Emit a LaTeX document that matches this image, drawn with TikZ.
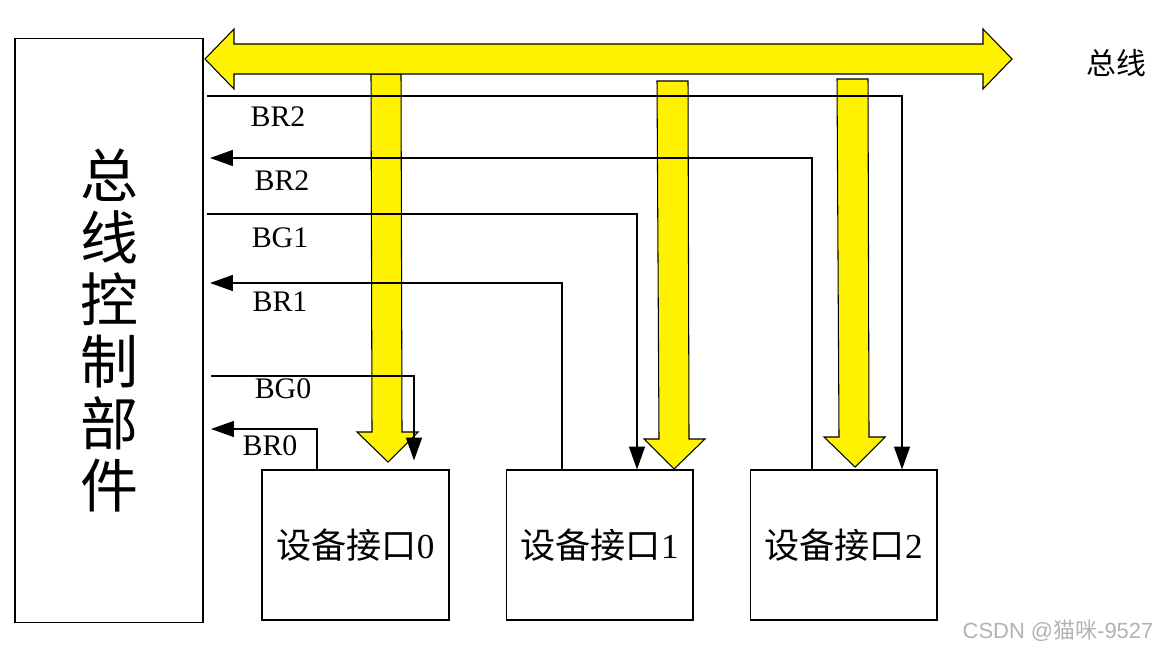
\documentclass[tikz,border=0pt]{standalone}
\usepackage{fontspec}
\setmainfont{Liberation Serif}
\setsansfont{Liberation Sans}
\newfontfamily\cjk{Noto Sans CJK SC}
\usetikzlibrary{arrows.meta, calc}

\begin{document}
\begin{tikzpicture}[x=0.02cm, y=-0.02cm,
        unit/.style={draw, line width=0.6pt, minimum width=3.74cm, minimum height=3cm, inner sep=0pt, font=\fontsize{20}{24}\selectfont},
        ctrlbox/.style={draw, line width=0.6pt, minimum width=3.76cm, minimum height=11.7cm, inner sep=0pt, align=center, font=\cjk\fontsize{33}{35.2}\selectfont},
        sig/.style={line width=1pt},
        sigarrow/.style={sig, -{Triangle[length=13pt, width=9pt]}},
        siglabel/.style={font=\fontsize{17}{19}\selectfont, inner sep=0pt},
        busfill/.style={draw=black, fill=yellow, line width=0.6pt, line join=miter}
    ]
        \useasboundingbox (0,0) rectangle (1158,651);

        % --- Bus controller and device interfaces ---
        \node[ctrlbox] (ctrl) at (109,330.5) {总\\线\\控\\制\\部\\件};
        \node[unit] (dev0) at (355.5,545) {{\cjk 设备接口}0};
        \node[unit] (dev1) at (599.5,545) {{\cjk 设备接口}1};
        \node[unit] (dev2) at (843.5,545) {{\cjk 设备接口}2};

        % --- Yellow bus drops ---
        \draw[busfill] (371,74) -- (401,74) -- (402,432) -- (418,432) -- (388,462) -- (357,432) -- (372,432) -- cycle;
        \draw[busfill] (657,81) -- (688,81) -- (689,439) -- (705,439) -- (674,469) -- (644,439) -- (659,439) -- cycle;
        \draw[busfill] (837,79) -- (868,79) -- (869,437) -- (885,437) -- (855,467) -- (824,437) -- (839,437) -- cycle;

        % --- Bus ---
        \draw[busfill] (205,59) -- (234,29) -- (234,44) -- (983,44) -- (983,29) -- (1012,59)
            -- (983,89) -- (983,74) -- (234,74) -- (234,89) -- cycle;
        \node[font=\cjk\fontsize{17}{20}\selectfont] (buslabel) at (1116,63) {总线};

        % --- Request and grant lines ---
        \coordinate (bg2out) at (207,96);
        \coordinate (br2in) at (210,158);
        \coordinate (bg1out) at (207,214);
        \coordinate (br1in) at (210,283);
        \coordinate (bg0out) at (211,376);
        \coordinate (br0in) at (211,429);

        \draw[sigarrow] (bg2out) -| ($(dev2.north)+(58.5,0)$);
        \draw[sigarrow] ($(dev2.north)+(-31.5,0)$) |- (br2in);
        \draw[sigarrow] (bg1out) -| ($(dev1.north)+(37.5,0)$);
        \draw[sigarrow] ($(dev1.north)+(-37.5,0)$) |- (br1in);
        \draw[sigarrow] (bg0out) -| ($(dev0.north)+(58.5,-9)$);
        \draw[sigarrow] ($(dev0.north)+(-38.5,0)$) |- (br0in);

        \node[siglabel] (lbg2) at (278,117) {BR2};
        \node[siglabel] (lbr2) at (282,181) {BR2};
        \node[siglabel] (lbg1) at (280,238) {BG1};
        \node[siglabel] (lbr1) at (280,302) {BR1};
        \node[siglabel] (lbg0) at (283,389) {BG0};
        \node[siglabel] (lbr0) at (270,446) {BR0};

        % --- Watermark ---
        \node[font=\sffamily\fontsize{12.5}{14}\selectfont, text=black!30] (mark) at (1058,631) {CSDN @{\cjk 猫咪}-9527};
    \end{tikzpicture}
\end{document}
